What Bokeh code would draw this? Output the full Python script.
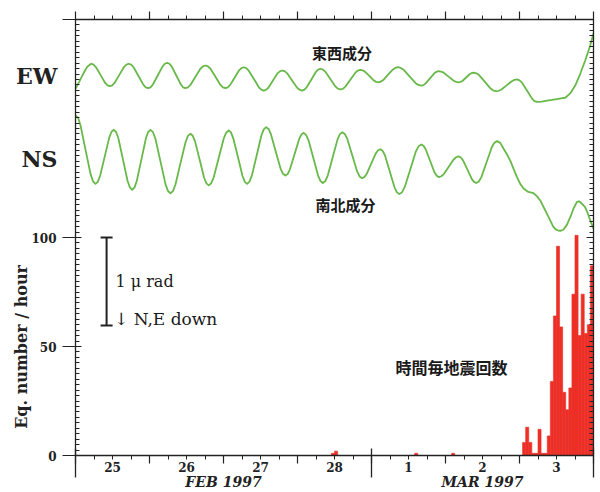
from bokeh.plotting import figure
from bokeh.models import (Range1d, LinearAxis, FixedTicker, Label, Whisker,
                          TeeHead, ColumnDataSource)
from bokeh.embed import file_html
from bokeh.resources import INLINE

# ---------------- data (x: days since 1997-02-25 00:00) ----------------
ew_time = [0.000, 0.053, 0.106, 0.159, 0.212,
           0.244, 0.275, 0.338, 0.401, 0.433, 0.464,
           0.496, 0.528, 0.592, 0.655, 0.687, 0.719,
           0.752, 0.785, 0.851, 0.916, 0.949, 0.982,
           1.014, 1.046, 1.111, 1.175, 1.207, 1.239,
           1.270, 1.301, 1.362, 1.424, 1.454, 1.485,
           1.519, 1.553, 1.621, 1.688, 1.722, 1.756,
           1.790, 1.824, 1.891, 1.959, 1.992, 2.026,
           2.057, 2.088, 2.150, 2.211, 2.242, 2.273,
           2.307, 2.341, 2.409, 2.476, 2.510, 2.544,
           2.575, 2.606, 2.668, 2.730, 2.761, 2.792,
           2.826, 2.860, 2.927, 2.995, 3.028, 3.062,
           3.093, 3.124, 3.186, 3.247, 3.278, 3.309,
           3.343, 3.377, 3.444, 3.512, 3.545, 3.579,
           3.613, 3.647, 3.714, 3.782, 3.815, 3.849,
           3.880, 3.910, 3.971, 4.032, 4.063, 4.093,
           4.126, 4.159, 4.224, 4.290, 4.322, 4.355,
           4.395, 4.435, 4.514, 4.594, 4.633, 4.673,
           4.702, 4.732, 4.790, 4.849, 4.878, 4.907,
           4.941, 4.975, 5.042, 5.110, 5.143, 5.177,
           5.202, 5.228, 5.279, 5.329, 5.355, 5.380,
           5.418, 5.457, 5.533, 5.610, 5.648, 5.686,
           5.721, 5.756, 5.826, 5.896, 5.931, 5.966,
           6.000, 6.034, 6.101, 6.169, 6.202, 6.236,
           6.300, 6.371, 6.440, 6.506, 6.560, 6.618,
           6.686, 6.753, 6.821, 6.888, 6.956, 7.000]
ew_tilt = [168.2, 171.6, 175.2, 178.3, 179.7,
           179.3, 178.2, 174.6, 170.9, 169.8, 169.4,
           169.8, 170.9, 174.6, 178.2, 179.3, 179.7,
           179.3, 178.1, 174.1, 170.1, 168.9, 168.5,
           168.9, 170.2, 174.3, 178.4, 179.7, 180.1,
           179.7, 178.4, 174.3, 170.2, 168.9, 168.5,
           168.9, 170.0, 173.7, 177.4, 178.5, 178.9,
           178.5, 177.4, 173.7, 170.0, 168.9, 168.5,
           168.9, 169.9, 173.3, 176.7, 177.7, 178.1,
           177.7, 176.5, 172.8, 169.0, 167.8, 167.4,
           167.7, 168.7, 172.0, 175.3, 176.2, 176.6,
           176.3, 175.3, 172.0, 168.7, 167.8, 167.4,
           167.8, 168.9, 172.4, 175.9, 177.0, 177.4,
           177.0, 176.0, 172.7, 169.3, 168.3, 167.9,
           168.2, 169.2, 172.4, 175.6, 176.6, 176.9,
           176.7, 176.1, 174.1, 172.0, 171.4, 171.2,
           171.5, 172.2, 174.7, 177.1, 177.8, 178.1,
           177.8, 176.9, 173.9, 170.9, 170.0, 169.7,
           169.9, 170.7, 173.0, 175.3, 176.0, 176.3,
           176.1, 175.6, 173.8, 171.9, 171.4, 171.2,
           171.4, 171.8, 173.4, 175.0, 175.4, 175.6,
           175.3, 174.4, 171.4, 168.3, 167.4, 167.1,
           167.3, 167.9, 169.8, 171.7, 172.3, 172.5,
           172.1, 171.0, 167.4, 163.7, 162.6, 162.2,
           162.3, 162.8, 163.1, 163.5, 163.8, 164.1,
           166.1, 169.7, 175.1, 181.2, 188.1, 193.6]

ns_time = [0.000, 0.034, 0.068, 0.135, 0.203, 0.236, 0.270,
           0.301, 0.332, 0.394, 0.456, 0.487, 0.518,
           0.549, 0.580, 0.642, 0.704, 0.735, 0.766,
           0.797, 0.828, 0.890, 0.951, 0.982, 1.013,
           1.047, 1.081, 1.148, 1.216, 1.249, 1.283,
           1.317, 1.351, 1.418, 1.486, 1.519, 1.553,
           1.584, 1.615, 1.677, 1.738, 1.769, 1.800,
           1.834, 1.868, 1.935, 2.003, 2.036, 2.070,
           2.101, 2.132, 2.195, 2.257, 2.288, 2.319,
           2.351, 2.383, 2.448, 2.512, 2.544, 2.576,
           2.609, 2.641, 2.706, 2.771, 2.804, 2.836,
           2.867, 2.898, 2.960, 3.022, 3.053, 3.084,
           3.116, 3.149, 3.214, 3.278, 3.311, 3.343,
           3.376, 3.409, 3.475, 3.540, 3.573, 3.606,
           3.639, 3.673, 3.739, 3.806, 3.839, 3.872,
           3.903, 3.934, 3.996, 4.058, 4.089, 4.120,
           4.152, 4.184, 4.248, 4.312, 4.344, 4.376,
           4.413, 4.450, 4.525, 4.599, 4.636, 4.673,
           4.703, 4.732, 4.792, 4.851, 4.881, 4.910,
           4.943, 4.977, 5.044, 5.110, 5.144, 5.177,
           5.207, 5.237, 5.297, 5.356, 5.386, 5.416,
           5.451, 5.486, 5.556, 5.626, 5.661, 5.696,
           5.740, 5.785, 5.830, 5.875, 5.920, 5.966,
           6.010, 6.055, 6.119, 6.190, 6.235, 6.280,
           6.337, 6.393, 6.456, 6.490, 6.523, 6.560,
           6.595, 6.640, 6.686, 6.731, 6.776, 6.805,
           6.834, 6.862, 6.888, 6.915, 6.942, 6.971, 7.000]
ns_tilt = [156.0, 155.0, 151.4, 140.3, 129.2, 125.8, 124.6,
           125.5, 128.2, 137.0, 145.8, 148.5, 149.4,
           148.4, 145.4, 135.7, 125.9, 123.0, 121.9,
           122.9, 125.9, 135.7, 145.4, 148.4, 149.4,
           148.3, 145.2, 134.9, 124.5, 121.4, 120.3,
           121.3, 124.3, 134.0, 143.6, 146.6, 147.6,
           146.7, 144.1, 135.8, 127.4, 124.8, 123.9,
           124.9, 127.6, 136.5, 145.4, 148.1, 149.1,
           148.2, 145.5, 136.9, 128.2, 125.5, 124.6,
           125.6, 128.4, 137.6, 146.8, 149.6, 150.6,
           149.8, 147.4, 139.5, 131.6, 129.2, 128.4,
           129.1, 131.3, 138.2, 145.1, 147.3, 148.0,
           147.1, 144.6, 136.5, 128.4, 125.9, 125.0,
           125.9, 128.4, 136.7, 144.9, 147.4, 148.3,
           147.5, 145.2, 137.8, 130.3, 128.0, 127.2,
           127.7, 129.1, 133.9, 138.6, 140.0, 140.5,
           139.7, 137.5, 130.2, 122.9, 120.7, 119.9,
           120.8, 123.2, 131.3, 139.4, 141.8, 142.7,
           142.1, 140.5, 135.2, 129.9, 128.3, 127.7,
           128.1, 129.1, 132.5, 135.8, 136.8, 137.2,
           136.7, 135.4, 131.1, 126.8, 125.5, 125.0,
           125.7, 127.8, 134.6, 141.4, 143.5, 144.2,
           143.4, 140.7, 138.2, 135.3, 131.5, 127.7,
           124.6, 122.5, 120.9, 120.3, 119.0, 117.0,
           113.2, 109.3, 105.0, 103.7, 103.2, 103.1,
           103.7, 105.8, 109.3, 113.3, 116.3, 116.6,
           115.8, 114.9, 113.8, 111.8, 109.2, 106.6, 104.1]

# hourly earthquake counts: hour index since 1997-02-25 00:00
eq_hour = [83, 84, 110, 122,
           145, 146, 147, 148, 149, 150, 151, 152, 153, 154, 155, 156,
           157, 158, 159, 160, 161, 162, 163, 164, 165, 166, 167]
eq_count = [1, 2, 1, 1,
            6, 13, 6, 1, 1, 12, 1, 1, 9, 34, 64, 96,
            59, 29, 21, 31, 74, 101, 55, 74, 56, 60, 87]

day_labels = ["25", "26", "27", "28", "1", "2", "3"]
month_labels = ["FEB 1997", "MAR 1997"]
month_centers = [2.0, 5.5]
month_dividers = [0, 4, 7]
count_ticks = [0, 50, 100]
trace_names = ["EW", "NS"]
trace_label_pos = [174.3, 136.2]
count_title = "Eq. number / hour"
count_title_pos = 49.8

# scale bar (1 micro-radian) in axis units
scale_x = 0.42
scale_lo = 59.6
scale_hi = 100.0

# ---------------- figure ----------------
AX = "#222222"
GREEN = "#68b94a"
RED = "#ec2f27"
SERIF = "DejaVu Serif"
CJK = "Noto Sans CJK JP"

W, H = 600, 492
p = figure(width=W, height=H, x_range=Range1d(0, 7), y_range=Range1d(0, 200),
           output_backend="svg", toolbar_location=None,
           min_border_left=75, min_border_right=7, min_border_top=19,
           min_border_bottom=37, x_axis_location=None, y_axis_location=None)
p.outline_line_color = None
p.xgrid.visible = False
p.ygrid.visible = False

quarters = [i * 0.25 for i in range(29)]
midnights = list(range(8))
y_minor = [i * 2.5 for i in range(81)]


def style_axis(ax, size="12px", style="bold"):
    ax.axis_line_color = AX
    ax.axis_line_width = 1.3
    ax.major_tick_line_color = AX
    ax.minor_tick_line_color = AX
    ax.major_tick_line_width = 1.2
    ax.minor_tick_line_width = 1
    ax.major_label_text_font = SERIF
    ax.major_label_text_font_style = style
    ax.major_label_text_font_size = size
    ax.major_label_text_color = AX


def text_only(ax):
    ax.axis_line_color = None
    ax.major_tick_line_color = None
    ax.minor_tick_line_color = None
    ax.major_tick_out = 0
    ax.major_tick_in = 0


def blank(ticks):
    return {t: "" for t in ticks}


# left: counts axis
left = LinearAxis(ticker=FixedTicker(ticks=count_ticks + [200], minor_ticks=y_minor))
style_axis(left)
left.major_label_overrides = {200: ""}
left.major_tick_out = 13
left.major_tick_in = 6
left.minor_tick_in = 4
left.minor_tick_out = 0
left.major_label_standoff = 6
p.add_layout(left, "left")

# left: trace names (EW / NS)
names_axis = LinearAxis(ticker=FixedTicker(ticks=trace_label_pos, minor_ticks=[]))
style_axis(names_axis, size="22px")
text_only(names_axis)
names_axis.major_label_overrides = {t: n for t, n in zip(trace_label_pos, trace_names)}
names_axis.major_label_standoff = -29
p.add_layout(names_axis, "left")

# left: rotated count title
title_axis = LinearAxis(ticker=FixedTicker(ticks=[count_title_pos], minor_ticks=[]))
style_axis(title_axis, size="16px")
text_only(title_axis)
title_axis.major_label_overrides = {count_title_pos: count_title}
title_axis.major_label_orientation = "parallel"
title_axis.major_label_standoff = -18
p.add_layout(title_axis, "left")

# right mirror axis
right = LinearAxis(ticker=FixedTicker(ticks=count_ticks + [200], minor_ticks=y_minor))
style_axis(right, size="1px")
right.major_label_overrides = blank(count_ticks + [200])
right.major_tick_out = 0
right.major_tick_in = 7
right.minor_tick_in = 4
right.minor_tick_out = 0
right.major_label_standoff = 0
p.add_layout(right, "right")

# top axis
top = LinearAxis(ticker=FixedTicker(ticks=midnights, minor_ticks=quarters))
style_axis(top, size="1px")
top.major_label_overrides = blank(midnights)
top.major_tick_out = 8
top.major_tick_in = 0
top.minor_tick_out = 4
top.minor_tick_in = 0
top.major_label_standoff = 0
p.add_layout(top, "above")

# bottom: tick marks
bot_ticks = LinearAxis(ticker=FixedTicker(ticks=midnights, minor_ticks=quarters))
style_axis(bot_ticks, size="1px")
bot_ticks.major_label_overrides = blank(midnights)
bot_ticks.major_tick_out = 8
bot_ticks.major_tick_in = 0
bot_ticks.minor_tick_out = 4
bot_ticks.minor_tick_in = 0
bot_ticks.major_label_standoff = 0
p.add_layout(bot_ticks, "below")

# bottom: day labels
day_ticks = [i + 0.5 for i in range(len(day_labels))]
days_axis = LinearAxis(ticker=FixedTicker(ticks=day_ticks, minor_ticks=[]))
style_axis(days_axis)
text_only(days_axis)
days_axis.major_label_overrides = {t: lab for t, lab in zip(day_ticks, day_labels)}
days_axis.major_label_standoff = -2
p.add_layout(days_axis, "below")

# bottom: month labels with long dividers
month_axis = LinearAxis(ticker=FixedTicker(ticks=month_centers, minor_ticks=month_dividers))
style_axis(month_axis, size="14px", style="bold italic")
month_axis.major_label_overrides = {t: m for t, m in zip(month_centers, month_labels)}
month_axis.axis_line_color = None
month_axis.major_tick_line_color = None
month_axis.major_tick_out = 0
month_axis.major_tick_in = 0
month_axis.minor_tick_line_width = 1.3
month_axis.minor_tick_in = 26
month_axis.minor_tick_out = 3
month_axis.major_label_standoff = -4
p.add_layout(month_axis, "below")

# ---------------- glyphs ----------------
p.vbar(x=[(h + 0.5) / 24 for h in eq_hour], width=1 / 24, top=eq_count, bottom=0,
       fill_color=RED, line_color=RED, line_width=0.6)
p.line(ew_time, ew_tilt, line_color=GREEN, line_width=1.8, line_join="round")
p.line(ns_time, ns_tilt, line_color=GREEN, line_width=1.8, line_join="round")

# scale bar
sb_src = ColumnDataSource(dict(base=[scale_x], lower=[scale_lo], upper=[scale_hi]))
p.add_layout(Whisker(source=sb_src, base="base", lower="lower", upper="upper",
                     dimension="height", line_color=AX, line_width=2,
                     upper_head=TeeHead(size=12, line_color=AX, line_width=2),
                     lower_head=TeeHead(size=12, line_color=AX, line_width=2)))


def add_text(x, y, text, size, font=SERIF, style="bold", align="center"):
    p.add_layout(Label(x=x, y=y, text=text, text_font=font,
                       text_font_size=f"{size}px", text_font_style=style,
                       text_align=align, text_baseline="middle",
                       text_color="#1a1a1a"))


add_text(0.54, 79.8, "1 \u03bc rad", 16, style="normal", align="left")
add_text(0.52, 62.4, "\u2193 N,E down", 17, style="normal", align="left")
add_text(3.60, 184.9, "東西成分", 15, font=CJK)
add_text(3.65, 115.1, "南北成分", 15, font=CJK)
add_text(5.08, 40.8, "時間毎地震回数", 16, font=CJK)

open("out.html", "w").write(file_html(p, INLINE))
